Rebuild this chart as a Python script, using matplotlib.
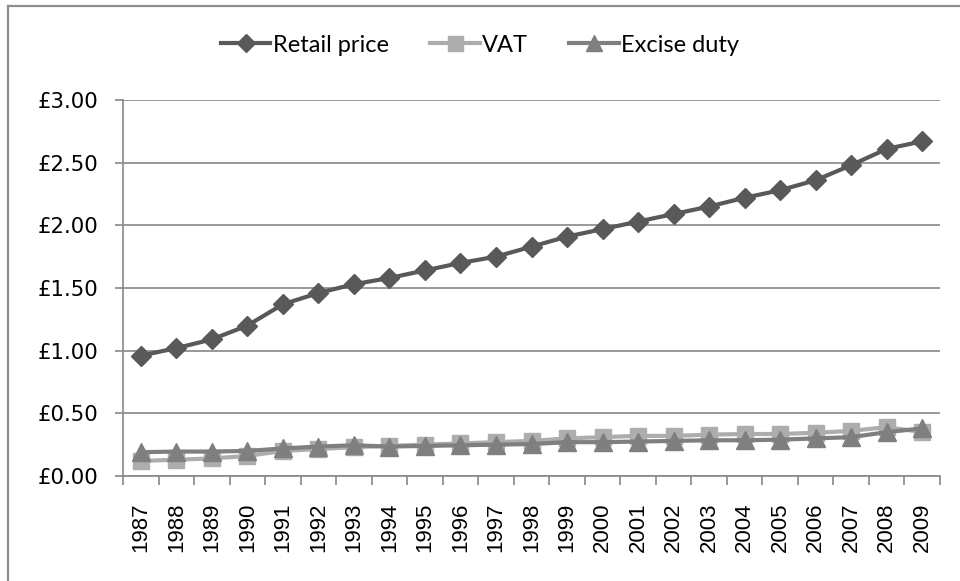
import numpy as np
import matplotlib
matplotlib.use("Agg")
import matplotlib.pyplot as plt
from matplotlib.lines import Line2D

years = [str(y) for y in range(1987, 2010)]
retail_price = [0.96, 1.02, 1.09, 1.20, 1.37, 1.46, 1.53, 1.58, 1.64, 1.70, 1.75, 1.83,
                1.91, 1.97, 2.03, 2.09, 2.15, 2.22, 2.28, 2.36, 2.48, 2.61, 2.67]
vat = [0.12, 0.13, 0.14, 0.16, 0.20, 0.215, 0.23, 0.24, 0.25, 0.26, 0.27, 0.28,
       0.30, 0.31, 0.32, 0.32, 0.33, 0.335, 0.335, 0.345, 0.36, 0.39, 0.35]
excise = [0.19, 0.195, 0.195, 0.20, 0.22, 0.235, 0.245, 0.235, 0.24, 0.245, 0.25, 0.255,
          0.27, 0.27, 0.275, 0.28, 0.285, 0.285, 0.29, 0.30, 0.31, 0.35, 0.38]
yticks = [0, 0.5, 1.0, 1.5, 2.0, 2.5, 3.0]

fig = plt.figure(figsize=(9.6, 5.81), dpi=100)
ax = fig.add_axes([123/960, 1-476/581, (940-123)/960, (476-100)/581])

x = np.arange(len(years))
ax.plot(x, retail_price, color='#595959', lw=3, marker='D', ms=10, label='Retail price', zorder=3)
ax.plot(x, vat, color='#adadad', lw=3, marker='s', ms=12, label='VAT', zorder=4)
ax.plot(x, excise, color='#7f7f7f', lw=3, marker='^', ms=13, label='Excise duty', zorder=5)

ax.set_xlim(-0.5, len(years) - 0.5)
ax.set_ylim(0, 3)
ax.set_yticks(yticks)
ax.set_yticklabels(['£%.2f' % v for v in yticks], fontsize=15.3, family='DejaVu Sans')
ax.yaxis.grid(True, color='#888888', lw=1.2)
ax.set_axisbelow(True)

ax.set_xticks(np.arange(-0.5, len(years), 1))
ax.set_xticklabels([])
ax.set_xticks(x, minor=True)
ax.set_xticklabels(years, minor=True, rotation=90, fontsize=16, family='Liberation Sans')
ax.tick_params(axis='x', which='major', length=6.5, color='#888888', width=1.2)
ax.tick_params(axis='x', which='minor', length=0, pad=19)
ax.tick_params(axis='y', length=5.8, color='#888888', width=1.2, pad=12)

for s in ['top', 'right']:
    ax.spines[s].set_visible(False)
for s in ['left', 'bottom']:
    ax.spines[s].set_color('#888888')
    ax.spines[s].set_linewidth(1.2)

fig.legend(loc='center', bbox_to_anchor=(0.5, 1-45/581), ncol=3, frameon=False,
           prop={'family': 'Lato', 'size': 17}, handlelength=2.1, handletextpad=0.1,
           columnspacing=1.75, markerscale=0.9)

# chart border
fig.add_artist(Line2D([8/960, 8/960], [0, 1-6/581], color='#8c8c8c', lw=1.6))
fig.add_artist(Line2D([8/960, 1], [1-6/581, 1-6/581], color='#8c8c8c', lw=1.6))

fig.savefig('out.png', dpi=100)
